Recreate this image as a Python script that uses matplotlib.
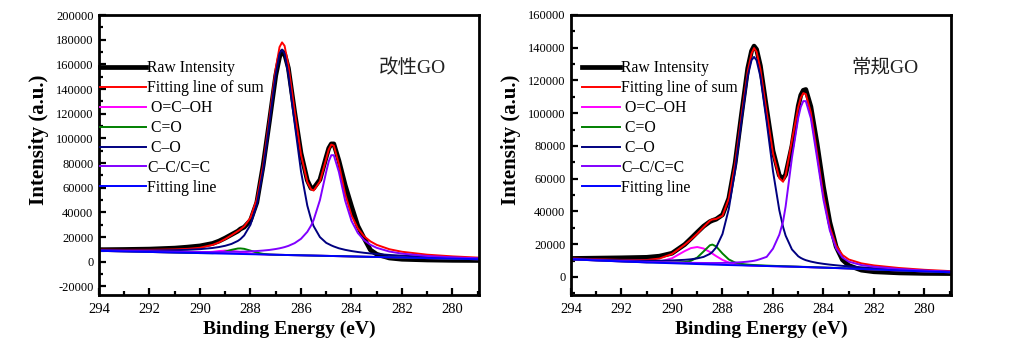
import numpy as np
import matplotlib
matplotlib.use('Agg')
import matplotlib.pyplot as plt
from matplotlib.ticker import MultipleLocator, FuncFormatter

plt.rcParams['font.family'] = ['Liberation Serif', 'Noto Sans CJK SC']

# binding energy grid (eV), shared by both panels
energy = [294, 293, 292, 291, 290.5, 290,
          289.5, 289.25, 289, 288.75, 288.5, 288.4, 288.25, 288,
          287.75, 287.5, 287.25, 287, 286.85, 286.75, 286.65, 286.5,
          286.25, 286, 285.75, 285.6, 285.5, 285.25, 285,
          284.9, 284.8, 284.7, 284.5, 284.25, 284,
          283.75, 283.5, 283.25, 283, 282.5, 282, 281, 280, 279]

# 改性GO, intensity in thousands of counts
mod_raw = [9.7, 9.9, 10.2, 11.0, 11.8, 12.8,
           14.8, 16.7, 19.2, 22.0, 24.8, 26.5, 28.0, 33.5,
           48.0, 78.0, 114.0, 151.0, 166.0, 170.5, 168.5, 157.0,
           121.0, 88.0, 66.0, 59.5, 59.5, 66.5, 85.0,
           92.0, 95.5, 95.5, 82.0, 62.0, 45.0,
           29.0, 19.0, 9.5, 6.0, 3.0, 2.0, 1.4, 1.1, 1.0]
mod_fit = [9.75, 9.59, 9.62, 9.95, 10.38, 11.30,
           13.63, 15.68, 18.38, 21.54, 24.81, 26.17, 28.63, 35.69,
           50.68, 77.67, 116.26, 156.67, 174.0, 177.8, 175.0, 159.21,
           121.66, 86.65, 64.60, 58.68, 57.67, 65.05, 83.55,
           90.95, 94.93, 94.06, 79.16, 54.72, 37.46,
           27.00, 20.58, 16.46, 13.64, 10.12, 8.05, 5.69, 4.31, 3.33]
mod_ocoh = [8.80, 8.35, 7.90, 7.44, 7.23, 7.23,
            8.01, 8.63, 8.99, 8.81, 8.15, 7.81, 7.31, 6.61,
            6.17, 5.92, 5.74, 5.63, 5.56, 5.52, 5.47, 5.40,
            5.29, 5.18, 5.06, 5.00, 4.95, 4.84, 4.72,
            4.68, 4.63, 4.59, 4.50, 4.38, 4.27,
            4.16, 4.04, 3.93, 3.82, 3.59, 3.36, 2.91, 2.46, 2.00]
mod_cdo = [8.80, 8.35, 7.90, 7.44, 7.21, 6.99,
           6.92, 7.26, 8.20, 9.62, 10.69, 10.76, 10.43, 8.97,
           7.37, 6.34, 5.86, 5.65, 5.56, 5.52, 5.47, 5.40,
           5.29, 5.18, 5.06, 5.00, 4.95, 4.84, 4.72,
           4.68, 4.63, 4.59, 4.50, 4.38, 4.27,
           4.16, 4.04, 3.93, 3.82, 3.59, 3.36, 2.91, 2.46, 2.00]
mod_co = [9.46, 9.23, 9.15, 9.32, 9.62, 10.16,
          11.13, 11.88, 12.91, 14.42, 16.85, 18.29, 21.30, 29.98,
          46.40, 73.96, 112.34, 152.00, 168.7, 172.0, 168.6, 151.80,
          111.89, 73.28, 45.46, 34.37, 28.85, 19.94, 15.26,
          14.25, 13.21, 12.34, 10.87, 9.61, 8.64,
          7.86, 7.21, 6.69, 6.23, 5.47, 4.88, 3.95, 3.22, 2.58]
mod_cc = [9.09, 8.72, 8.37, 8.07, 7.96, 7.89,
          7.85, 7.86, 7.90, 7.95, 8.05, 8.09, 8.19, 8.38,
          8.65, 9.03, 9.54, 10.28, 10.85, 11.32, 11.84, 12.81,
          15.06, 18.55, 24.20, 29.31, 33.77, 49.95, 73.01,
          81.38, 86.35, 86.31, 72.79, 49.49, 33.09,
          23.30, 17.41, 13.70, 11.23, 8.24, 6.53, 4.65, 3.55, 2.75]
mod_base = [8.80, 8.35, 7.90, 7.44, 7.21, 6.99,
            6.76, 6.65, 6.54, 6.42, 6.31, 6.26, 6.20, 6.08,
            5.97, 5.86, 5.74, 5.63, 5.56, 5.52, 5.47, 5.40,
            5.29, 5.18, 5.06, 5.00, 4.95, 4.84, 4.72,
            4.68, 4.63, 4.59, 4.50, 4.38, 4.27,
            4.16, 4.04, 3.93, 3.82, 3.59, 3.36, 2.91, 2.46, 2.00]

# 常规GO, intensity in thousands of counts
reg_raw = [11.3, 11.5, 11.7, 12.0, 12.7, 14.5,
           19.8, 23.5, 27.3, 31.0, 33.8, 34.5, 35.3, 38.0,
           48.0, 69.5, 99.0, 127.5, 138.0, 141.0, 139.0, 129.0,
           102.5, 77.0, 62.0, 60.0, 62.5, 80.0, 104.5,
           111.0, 114.0, 114.5, 104.0, 81.0, 55.0,
           33.5, 18.5, 10.5, 7.0, 4.2, 3.2, 2.5, 2.2, 2.1]
reg_fit = [11.34, 10.80, 10.45, 10.37, 11.24, 14.04,
           19.66, 22.90, 26.43, 30.49, 34.35, 35.14, 35.43, 37.41,
           47.90, 69.08, 98.12, 125.66, 136.5, 139.8, 137.5, 126.93,
           100.53, 75.52, 60.31, 58.17, 62.06, 83.44, 103.66,
           109.42, 112.30, 111.69, 100.39, 75.16, 49.53,
           30.50, 19.19, 13.45, 10.70, 8.32, 7.07, 5.48, 4.39, 3.61]
reg_ocoh = [10.80, 10.10, 9.50, 8.98, 9.30, 11.43,
            15.79, 17.65, 18.30, 17.40, 15.29, 14.28, 12.73, 10.43,
            8.82, 7.85, 7.34, 7.08, 6.94, 6.90, 6.86, 6.80,
            6.70, 6.60, 6.50, 6.44, 6.40, 6.30, 6.20,
            6.15, 6.10, 6.05, 5.95, 5.83, 5.70,
            5.58, 5.45, 5.33, 5.20, 4.90, 4.60, 4.00, 3.40, 2.90]
reg_cdo = [10.83, 10.14, 9.54, 8.97, 8.92, 8.85,
           9.12, 9.87, 11.87, 15.59, 19.36, 19.80, 18.66, 14.33,
           10.71, 8.80, 7.97, 7.57, 7.40, 7.32, 7.24, 7.13,
           6.96, 6.81, 6.67, 6.58, 6.54, 6.42, 6.31,
           6.25, 6.19, 6.14, 6.03, 5.90, 5.77,
           5.64, 5.51, 5.38, 5.25, 4.95, 4.64, 4.03, 3.43, 2.92]
reg_co = [11.16, 10.57, 10.16, 9.91, 9.94, 10.10,
          10.48, 10.81, 11.36, 12.26, 14.10, 15.33, 18.07, 26.27,
          41.60, 65.21, 95.08, 122.64, 132.40, 134.40, 132.32, 122.44,
          94.68, 64.61, 40.80, 30.54, 25.27, 16.84, 12.65,
          11.65, 10.88, 10.27, 9.41, 8.61, 8.03,
          7.55, 7.15, 6.79, 6.49, 5.91, 5.42, 4.56, 3.81, 3.21]
reg_cc = [10.95, 10.29, 9.74, 9.23, 9.04, 8.86,
          8.71, 8.65, 8.60, 8.56, 8.54, 8.54, 8.54, 8.58,
          8.67, 8.82, 9.03, 9.37, 9.66, 9.91, 10.25, 10.96,
          12.30, 17.30, 25.84, 33.93, 43.05, 72.78, 97.21,
          103.83, 107.43, 107.38, 96.86, 72.30, 47.12,
          28.46, 17.43, 11.93, 9.36, 7.27, 6.22, 4.89, 3.96, 3.29]
reg_base = [10.80, 10.10, 9.50, 8.90, 8.65, 8.40,
            8.15, 8.03, 7.90, 7.78, 7.65, 7.60, 7.53, 7.40,
            7.30, 7.20, 7.10, 7.00, 6.94, 6.90, 6.86, 6.80,
            6.70, 6.60, 6.50, 6.44, 6.40, 6.30, 6.20,
            6.15, 6.10, 6.05, 5.95, 5.83, 5.70,
            5.58, 5.45, 5.33, 5.20, 4.90, 4.60, 4.00, 3.40, 2.90]

labels = ['Raw Intensity', 'Fitting line of sum', ' O=C\u2013OH', ' C=O',
          ' C\u2013O', 'C\u2013C/C=C', 'Fitting line']
colors = ['black', '#ff0000', '#ff00ff', '#008000', '#000080', '#8000ff', '#0000ff']


def draw(ax, curves, ylim, name, leg_x, handle_len):
    for y, lab, c in zip(curves, labels, colors):
        lw = 3.4 if c == 'black' else 1.4
        ax.plot(energy, np.array(y) * 1000, color=c, lw=lw, label=lab)

    ax.set_xlim(294, 278.95)
    ax.set_ylim(*ylim)
    ax.xaxis.set_major_locator(MultipleLocator(2))
    ax.xaxis.set_minor_locator(MultipleLocator(1))
    ax.yaxis.set_major_locator(MultipleLocator(20000))
    ax.yaxis.set_minor_locator(MultipleLocator(10000))
    ax.yaxis.set_major_formatter(FuncFormatter(lambda v, p: '%d' % v))
    ax.xaxis.set_major_formatter(FuncFormatter(lambda v, p: '%d' % v))

    ax.tick_params(which='both', direction='in', top=False, right=False, width=1.6)
    ax.tick_params(which='major', length=5)
    ax.tick_params(which='minor', length=3)
    ax.tick_params(axis='x', labelsize=10.5, pad=6)
    ax.tick_params(axis='y', labelsize=9, pad=4)
    for s in ax.spines.values():
        s.set_linewidth(2)

    ax.set_xlabel('Binding Energy (eV)', fontsize=14, fontweight='bold')
    ax.xaxis.set_label_coords(0.5, -0.09)
    ax.text(-0.158, 0.554, 'Intensity (a.u.)', transform=ax.transAxes,
            rotation=90, ha='center', va='center', fontsize=15, fontweight='bold')

    ax.text(0.825, 0.81, name, transform=ax.transAxes, ha='center', va='center',
            fontsize=14, color='#222222')

    ax.legend(loc='upper left', bbox_to_anchor=(leg_x, 0.838), frameon=False,
              fontsize=11.3, handlelength=handle_len, handletextpad=0.1,
              labelspacing=0.25, borderpad=0, borderaxespad=0)


fig = plt.figure(figsize=(10.28, 3.61), dpi=100)
ax1 = fig.add_axes([99 / 1028, 1 - 295 / 361, 380 / 1028, 280 / 361])
ax2 = fig.add_axes([571 / 1028, 1 - 295 / 361, 380 / 1028, 280 / 361])

draw(ax1, [mod_raw, mod_fit, mod_ocoh, mod_cdo, mod_co, mod_cc, mod_base],
     (-27000, 200000), '改性GO', 0.003, 2.9)
draw(ax2, [reg_raw, reg_fit, reg_ocoh, reg_cdo, reg_co, reg_cc, reg_base],
     (-11000, 160000), '常规GO', 0.029, 2.4)

fig.savefig('out.png', dpi=100)
